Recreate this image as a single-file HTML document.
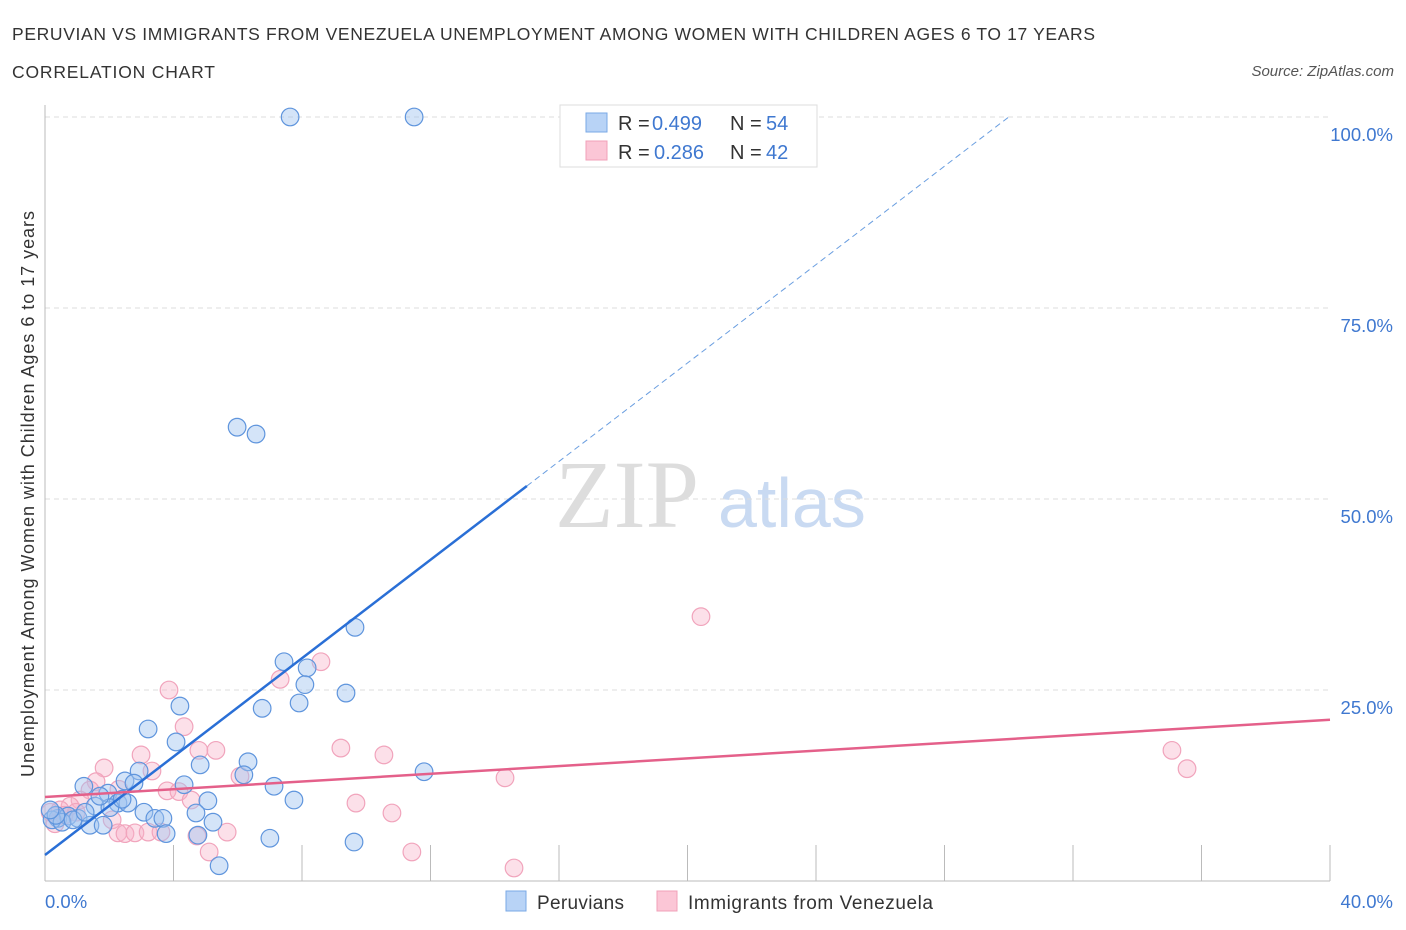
<!DOCTYPE html>
<html><head><meta charset="utf-8"><style>
body{margin:0;background:#fff;font-family:"Liberation Sans",sans-serif;}
svg{display:block}
</style></head><body>
<svg id="c" width="1406" height="930" xmlns="http://www.w3.org/2000/svg">
<text x="12" y="40" font-size="17.5" fill="#333" textLength="1083" lengthAdjust="spacing">PERUVIAN VS IMMIGRANTS FROM VENEZUELA UNEMPLOYMENT AMONG WOMEN WITH CHILDREN AGES 6 TO 17 YEARS</text>
<text x="12" y="78" font-size="17.5" fill="#333" textLength="203" lengthAdjust="spacing">CORRELATION CHART</text>
<text x="1394" y="76" font-size="15" font-style="italic" fill="#555" text-anchor="end">Source: ZipAtlas.com</text>
<text transform="translate(34,494) rotate(-90)" font-size="18" fill="#333" text-anchor="middle" textLength="566" lengthAdjust="spacing">Unemployment Among Women with Children Ages 6 to 17 years</text>
<g><text x="555" y="527" font-family="Liberation Serif,serif" font-size="96" fill="#ddd">ZIP</text><text x="718" y="527" font-size="70" fill="#c9daf2">atlas</text></g>
<g id="grid"></g><g id="marks"></g>
<g>
<rect x="560" y="105" width="257" height="62" fill="#fff" stroke="#ddd"/>
<rect x="586" y="113" width="21" height="19" fill="#b8d3f6" stroke="#7aa8e6"/>
<rect x="586" y="141" width="21" height="19" fill="#fbc6d6" stroke="#f0a0b8"/>
<text x="618" y="130" font-size="20" fill="#333">R = </text><text x="652" y="130" font-size="20" fill="#3f78d0">0.499</text>
<text x="730" y="130" font-size="20" fill="#333">N = </text><text x="766" y="130" font-size="20" fill="#3f78d0">54</text>
<text x="618" y="159" font-size="20" fill="#333">R = </text><text x="654" y="159" font-size="20" fill="#3f78d0">0.286</text>
<text x="730" y="159" font-size="20" fill="#333">N = </text><text x="766" y="159" font-size="20" fill="#3f78d0">42</text>
</g>
<g>
<rect x="506" y="891" width="20" height="20" fill="#b8d3f6" stroke="#7aa8e6"/>
<text x="537" y="909" font-size="19" fill="#333" textLength="87" lengthAdjust="spacing">Peruvians</text>
<rect x="657" y="891" width="20" height="20" fill="#fbc6d6" stroke="#f0a0b8"/>
<text x="688" y="909" font-size="19" fill="#333" textLength="245" lengthAdjust="spacing">Immigrants from Venezuela</text>
</g>
</svg>
<script>
const yTicks=[25,50,75,100];
const yTickLabels=["25.0%","50.0%","75.0%","100.0%"];
const xTickCount=10;
const blueX=[7.63,11.49,5.98,6.57,9.65,7.44,8.16,8.09,9.37,7.91,6.76,3.21,4.20,4.08,6.32,4.83,6.19,2.93,2.49,1.21,2.77,4.33,1.96,7.13,11.80,7.75,5.07,1.56,2.27,2.58,3.08,4.70,3.42,3.67,0.40,0.72,1.03,0.22,0.53,1.40,1.81,5.23,3.77,4.76,7.00,9.62,5.42,0.34,0.87,1.25,2.02,1.71,2.40,0.16];
const blueY=[100,100,59.4,58.5,33.2,28.7,27.9,25.7,24.6,23.3,22.6,19.9,22.9,18.2,15.6,15.2,13.9,14.4,13.1,12.4,12.8,12.6,11.5,12.4,14.3,10.6,10.5,9.8,10.2,10.2,9.0,8.9,8.2,8.2,8.2,8.5,8.2,8.0,7.7,7.3,7.3,7.7,6.2,6.0,5.6,5.1,2.0,8.6,8.0,9.0,9.6,11.1,10.7,9.3];
const pinkX=[3.86,4.33,7.32,8.59,20.42,2.99,4.79,5.32,6.07,1.84,3.33,1.59,1.40,3.80,4.17,4.55,2.30,9.21,10.55,9.68,10.80,14.32,35.08,35.55,1.09,0.78,0.47,0.16,0.31,0.97,2.09,2.27,2.49,2.80,3.21,3.61,4.73,5.67,5.11,11.42,14.60,0.59];
const pinkY=[25.0,20.2,26.4,28.7,34.6,16.5,17.1,17.1,13.7,14.8,14.4,13.0,11.9,11.8,11.7,10.6,12.0,17.4,16.5,10.2,8.9,13.5,17.1,14.7,10.6,9.8,9.3,9.0,7.5,9.0,8.0,6.3,6.2,6.3,6.4,6.4,5.9,6.4,3.8,3.8,1.7,8.6];
const blueTrend=[3.4,3.22];
const pinkTrend=[11.0,0.2525];
const NS="http://www.w3.org/2000/svg";
const X=v=>45+v/40*1285, Y=v=>881-v/100*764;
function mk(t,a,p){const e=document.createElementNS(NS,t);for(const k in a)e.setAttribute(k,a[k]);p.appendChild(e);return e;}
const g=document.getElementById('grid'),m=document.getElementById('marks');
yTicks.forEach((t,i)=>{
 const l=mk('line',{x1:45,x2:1330,y1:Y(t),y2:Y(t),stroke:'#ddd','stroke-dasharray':'5,4'},g);
 
 
 const tx=mk('text',{x:1393,y:Y(t)+24,'font-size':18.5,fill:'#3f78d0','text-anchor':'end'},g);
 tx.textContent=yTickLabels[i];
 
 
});
const ax=mk('line',{x1:45,x2:1330,y1:881,y2:881,stroke:'#bbb'},g);


const ay=mk('line',{x1:45,x2:45,y1:105,y2:881,stroke:'#bbb'},g);


for(let i=1;i<=xTickCount;i++){const x=X(i*40/xTickCount);
 const t=mk('line',{x1:x,x2:x,y1:845,y2:881,stroke:'#bbb'},g);
 
 }
const x0=mk('text',{x:45,y:908,'font-size':18.5,fill:'#3f78d0'},g);x0.textContent='0.0%';


const x1=mk('text',{x:1393,y:908,'font-size':18.5,fill:'#3f78d0','text-anchor':'end'},g);x1.textContent='40.0%';


pinkX.forEach((v,i)=>{const c=mk('circle',{cx:X(v),cy:Y(pinkY[i]),r:8.8,fill:'rgba(248,178,200,0.4)',stroke:'#f1a4bc','stroke-width':1.2},m);
 
 });
blueX.forEach((v,i)=>{const c=mk('circle',{cx:X(v),cy:Y(blueY[i]),r:8.8,fill:'rgba(160,196,240,0.45)',stroke:'#5f95dd','stroke-width':1.2},m);
 
 });
const bt=v=>blueTrend[0]+blueTrend[1]*v, pt=v=>pinkTrend[0]+pinkTrend[1]*v;
const l1=mk('line',{x1:X(0),y1:Y(bt(0)),x2:X(15),y2:Y(bt(15)),stroke:'#2a6fd6','stroke-width':2.5},m);


const xe=(100-blueTrend[0])/blueTrend[1];
const l2=mk('line',{x1:X(15),y1:Y(bt(15)),x2:X(xe),y2:Y(100),stroke:'#6a9ee0','stroke-width':1,'stroke-dasharray':'6,4'},m);


const l3=mk('line',{x1:X(0),y1:Y(pt(0)),x2:X(40),y2:Y(pt(40)),stroke:'#e4608a','stroke-width':2.5},m);


</script>
</body></html>
